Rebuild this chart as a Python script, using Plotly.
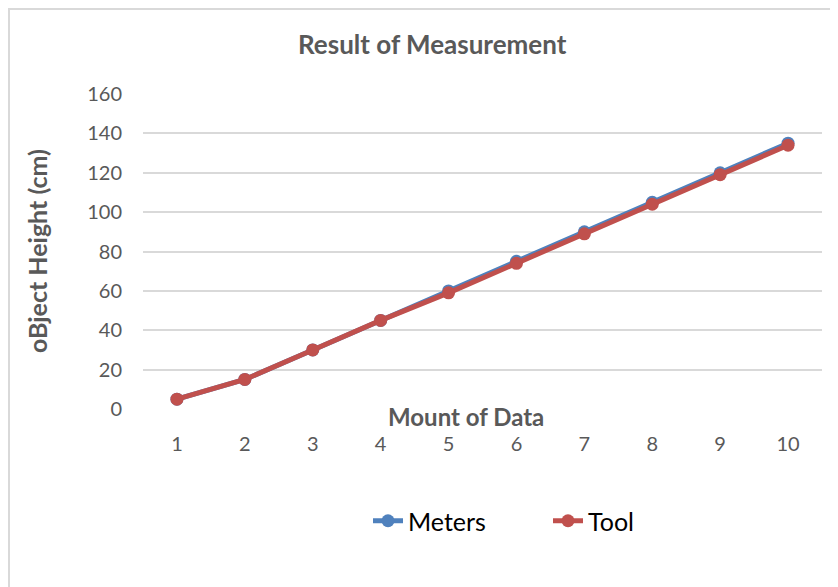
import plotly.graph_objects as go

categories = ["1", "2", "3", "4", "5", "6", "7", "8", "9", "10"]
meters = [5, 15, 30, 45, 60, 75, 90, 105, 120, 135]
tool = [5, 15, 30, 45, 59, 74, 89, 104, 119, 134]
y_ticks = [0, 20, 40, 60, 80, 100, 120, 140, 160]

# page has an 8px body margin; work in page coordinates and convert
OFF = 8
W, H = 838 - OFF, 587 - OFF
L, R, T, B = 143 - OFF, 838 - 822, 94 - OFF, 587 - 409
pw, ph = W - L - R, H - T - B

def px(x):
    return (x - OFF - L) / pw

def py(y):
    return (H - B - (y - OFF)) / ph

fig = go.Figure()
fig.add_trace(go.Scatter(x=categories, y=meters, name="Meters", mode="lines+markers",
                         line=dict(color="#4F81BD", width=5),
                         marker=dict(size=13, color="#4F81BD")))
fig.add_trace(go.Scatter(x=categories, y=tool, name="Tool", mode="lines+markers",
                         line=dict(color="#C0504D", width=5),
                         marker=dict(size=13, color="#C0504D")))

font = "Lato, Open Sans, sans-serif"
fig.update_layout(
    width=W, height=H,
    margin=dict(l=L, r=R, t=T, b=B),
    paper_bgcolor="white", plot_bgcolor="white",
    font=dict(family=font, color="#595959", size=20),
    showlegend=True,
    legend=dict(orientation="h", x=px(368), xanchor="left", y=py(521), yanchor="middle",
                font=dict(size=25, color="#000000"), entrywidth=135, entrywidthmode="pixels",
                tracegroupgap=0),
    xaxis=dict(type="category", showgrid=False, zeroline=False, showline=False,
               ticks="", ticklabelstandoff=21, tickfont=dict(size=20, color="#595959"),
               range=[-0.5, 9.5]),
    yaxis=dict(range=[0, 160], tickvals=y_ticks, showgrid=True, gridcolor="#D9D9D9",
               gridwidth=2, zeroline=False, showline=False, ticks="",
               ticklabelstandoff=20, tickfont=dict(size=20, color="#595959")),
    annotations=[
        dict(text="<b>Result of Measurement</b>", x=px(432), y=py(44), xref="paper", yref="paper",
             showarrow=False, font=dict(size=26, color="#595959", family=font),
             xanchor="center", yanchor="middle"),
        dict(text="<b>Mount of Data</b>", x=px(466), y=py(416), xref="paper", yref="paper",
             showarrow=False, font=dict(size=24, color="#595959", family=font),
             xanchor="center", yanchor="middle"),
        dict(text="<b>oBject Height (cm)</b>", x=px(37), y=py(251), xref="paper", yref="paper",
             showarrow=False, textangle=-90, font=dict(size=25, color="#595959", family=font),
             xanchor="center", yanchor="middle"),
    ],
    shapes=[
        dict(type="rect", xref="paper", yref="paper", x0=px(9), x1=px(900), y0=py(700), y1=py(9),
             line=dict(color="#D9D9D9", width=2), layer="below"),
    ],
)

fig.write_html("out.html")
